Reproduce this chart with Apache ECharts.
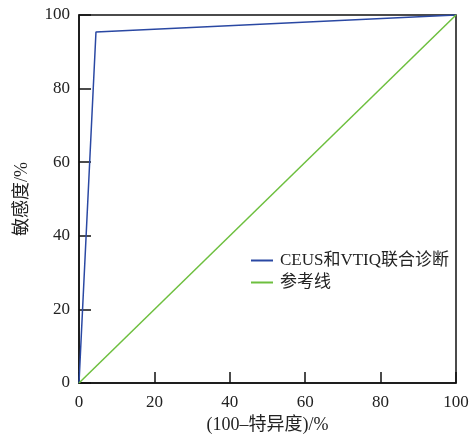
<!DOCTYPE html>
<html>
<head>
<meta charset="utf-8">
<script src="https://cdn.jsdelivr.net/npm/echarts@6/dist/echarts.min.js"></script>
<style>
html,body{margin:0;padding:0;background:#fff;}
#chart{width:470px;height:434px;}
</style>
</head>
<body>
<div id="chart"></div>
<script>
// ROC curve points: x = 100 - specificity (%), y = sensitivity (%)
const combinedX = [0, 4.5, 100];
const combinedY = [0, 95.4, 100];
const referenceX = [0, 100];
const referenceY = [0, 100];
const seriesNames = ['CEUS和VTIQ联合诊断', '参考线'];

const serif = '"Liberation Serif", "Noto Sans CJK SC", serif';
const chart = echarts.init(document.getElementById('chart'));

chart.setOption({
  backgroundColor: '#fff',
  animation: false,
  grid: {
    left: 79, right: 14, top: 15, bottom: 51,
    containLabel: false, outerBoundsMode: 'none',
    show: true, borderColor: '#111', borderWidth: 1.5
  },
  legend: {
    left: 246, top: 247, orient: 'vertical',
    itemWidth: 22, itemHeight: 2, itemGap: 5,
    icon: 'rect',
    textStyle: { fontFamily: serif, fontSize: 17, color: '#222', padding: [0, 0, 0, 2] },
    data: seriesNames
  },
  xAxis: {
    type: 'value', min: 0, max: 100, interval: 20,
    name: '(100\u2013特异度)/%',
    nameLocation: 'middle', nameGap: 31,
    nameTextStyle: { fontFamily: serif, fontSize: 18, color: '#222' },
    axisLine: { lineStyle: { color: '#111', width: 1.5 } },
    axisTick: { inside: true, length: 11, lineStyle: { color: '#111', width: 1.5 } },
    axisLabel: { fontFamily: serif, fontSize: 17, color: '#222', margin: 11 },
    splitLine: { show: false }
  },
  yAxis: {
    type: 'value', min: 0, max: 100, interval: 20,
    name: '敏感度/%',
    nameLocation: 'middle', nameGap: 48,
    nameTextStyle: { fontFamily: serif, fontSize: 18, color: '#222' },
    axisLine: { lineStyle: { color: '#111', width: 1.5 } },
    axisTick: { inside: true, length: 12, lineStyle: { color: '#111', width: 1.5 } },
    axisLabel: { fontFamily: serif, fontSize: 17, color: '#222', margin: 9 },
    splitLine: { show: false }
  },
  series: [
    {
      name: seriesNames[0], type: 'line', symbol: 'none',
      data: combinedX.map((x, i) => [x, combinedY[i]]),
      lineStyle: { color: '#2a48a3', width: 1.5 },
      itemStyle: { color: '#2a48a3' }
    },
    {
      name: seriesNames[1], type: 'line', symbol: 'none',
      data: referenceX.map((x, i) => [x, referenceY[i]]),
      lineStyle: { color: '#6dbf3e', width: 1.5 },
      itemStyle: { color: '#6dbf3e' }
    }
  ]
});
</script>
</body>
</html>
